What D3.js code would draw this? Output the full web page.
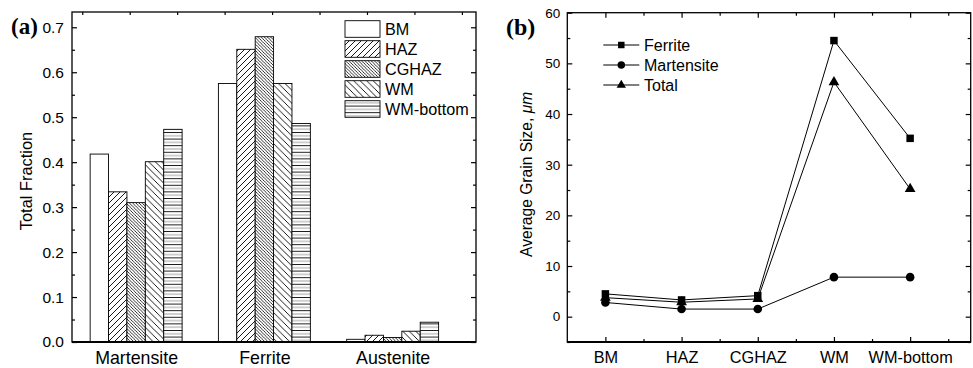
<!DOCTYPE html>
<html><head><meta charset="utf-8">
<script src="https://cdn.jsdelivr.net/npm/d3@7"></script>
<style>body{margin:0;background:#fff}svg{display:block;font-family:"Liberation Sans",Arial,sans-serif}</style>
</head><body>
<svg id="c" width="973" height="368"></svg>
<script>
// ---------- data ----------
const phases = ["Martensite", "Ferrite", "Austenite"];
const zones = ["BM", "HAZ", "CGHAZ", "WM", "WM-bottom"];
const fracBM = [0.418, 0.575, 0.006];
const fracHAZ = [0.334, 0.651, 0.015];
const fracCGHAZ = [0.310, 0.679, 0.010];
const fracWM = [0.401, 0.575, 0.024];
const fracWMb = [0.473, 0.486, 0.044];
const fracTicks = [0, 0.1, 0.2, 0.3, 0.4, 0.5, 0.6, 0.7];

const sizeCats = ["BM", "HAZ", "CGHAZ", "WM", "WM-bottom"];
const sizeFerrite = [4.5, 3.3, 4.15, 54.5, 35.2];
const sizeMartensite = [2.8, 1.5, 1.5, 7.8, 7.8];
const sizeTotal = [3.75, 2.85, 3.5, 46.3, 25.2];
const sizeTicks = [0, 10, 20, 30, 40, 50, 60];

const FONT = "'Liberation Sans', Arial, sans-serif";
const svg = d3.select("#c");
const defs = svg.append("defs");

// ---------- patterns ----------
function hatch(id, w, h, d, sw, extra) {
  const p = defs.append("pattern").attr("id", id).attr("patternUnits", "userSpaceOnUse")
    .attr("width", w).attr("height", h);
  p.append("rect").attr("width", w).attr("height", h).attr("fill", "#fff");
  p.append("path").attr("d", d).attr("stroke", "#000").attr("stroke-width", sw).attr("fill", "none");
  if (extra) extra(p);
}
hatch("pBM", 4, 4, "", 0);
hatch("pHAZ", 6, 6, "M0,6L6,0M-1,1L1,-1M5,7L7,5", 0.9);
hatch("pCG", 3.2, 3.2, "M0,0L3.2,3.2M-1,2.2L1,4.2M2.2,-1L4.2,1", 0.8);
hatch("pWM", 6.5, 6.5, "M0,0L6.5,6.5M-1,5.5L1,7.5M5.5,-1L7.5,1", 0.9);
hatch("pWMb", 8, 6.6, "M0,0.5H8", 0.9, p => {
  p.append("path").attr("d", "M0,3.8H8").attr("stroke", "#888").attr("stroke-width", 0.8);
});
const fills = ["url(#pBM)", "url(#pHAZ)", "url(#pCG)", "url(#pWM)", "url(#pWMb)"];
const fracSeries = [fracBM, fracHAZ, fracCGHAZ, fracWM, fracWMb];

// ---------- panel (a) ----------
const aL = 72, aR = 476, aT = 12, aB = 342;
const gx = d3.scaleLinear().domain([0.5, 3.65]).range([aL, aR]);
const ya = d3.scaleLinear().domain([0, 0.734]).range([aB, aT]);
const barW = (gx(2) - gx(1)) * 0.717 / zones.length;
const A = svg.append("g");

zones.forEach((z, j) => {
  A.append("g").selectAll("rect").data(phases).join("rect")
    .attr("x", (p, i) => gx(i + 1) + (j - zones.length / 2) * barW)
    .attr("y", (p, i) => ya(fracSeries[j][i]))
    .attr("width", barW)
    .attr("height", (p, i) => ya(0) - ya(fracSeries[j][i]))
    .attr("fill", fills[j]).attr("stroke", "#000").attr("stroke-width", 0.9);
});

// frame
A.append("rect").attr("x", aL).attr("y", aT).attr("width", aR - aL).attr("height", aB - aT)
  .attr("fill", "none").attr("stroke", "#000").attr("stroke-width", 1.3);
A.append("line").attr("x1", aL).attr("x2", aR).attr("y1", aB).attr("y2", aB)
  .attr("stroke", "#000").attr("stroke-width", 2.2);

function styleAxis(g, fs) {
  g.select(".domain").remove();
  g.selectAll("line").attr("stroke", "#000").attr("stroke-width", 1.2);
  g.selectAll("text").attr("font-size", fs).attr("fill", "#000").attr("font-family", FONT);
}
const yMinorA = d3.range(0.05, 0.73, 0.1);
A.append("g").attr("transform", `translate(${aL},0)`)
  .call(d3.axisLeft(ya).tickValues(fracTicks).tickFormat(d3.format(".1f")).tickSize(-5).tickPadding(8))
  .call(g => styleAxis(g, 15.5));
A.append("g").attr("transform", `translate(${aL},0)`)
  .call(d3.axisLeft(ya).tickValues(yMinorA).tickFormat("").tickSize(-3)).call(g => styleAxis(g, 0));
A.append("g").attr("transform", `translate(${aR},0)`)
  .call(d3.axisRight(ya).tickValues(fracTicks).tickFormat("").tickSize(-5)).call(g => styleAxis(g, 0));
A.append("g").attr("transform", `translate(${aR},0)`)
  .call(d3.axisRight(ya).tickValues(yMinorA).tickFormat("").tickSize(-3)).call(g => styleAxis(g, 0));
A.append("g").attr("transform", `translate(0,${aT})`)
  .call(d3.axisTop(gx).tickValues(d3.range(0.58, 3.65, 0.37)).tickFormat("").tickSize(-3)).call(g => styleAxis(g, 0));
A.append("g").attr("transform", `translate(0,${aB})`)
  .call(d3.axisBottom(gx).tickValues([1, 2, 3]).tickFormat((d) => phases[d - 1]).tickSize(0).tickPadding(9))
  .call(g => styleAxis(g, 17.8));

A.append("text").attr("transform", `translate(32,${(aT + aB) / 2 + 4}) rotate(-90)`)
  .attr("text-anchor", "middle").attr("font-size", 16.4).attr("font-family", FONT).text("Total Fraction");
A.append("text").attr("x", 11).attr("y", 34).attr("font-family", "'Liberation Serif','Times New Roman',serif")
  .attr("font-weight", "bold").attr("font-size", 23).text("(a)");

// legend (a)
const lg = A.append("g");
zones.forEach((z, j) => {
  lg.append("rect").attr("x", 345).attr("y", 20.7 + j * 20).attr("width", 35).attr("height", 16.6)
    .attr("fill", fills[j]).attr("stroke", "#000").attr("stroke-width", 0.9);
  lg.append("text").attr("x", 385).attr("y", 20.7 + j * 20 + 14.3).attr("font-size", 16.2).attr("font-family", FONT).text(z);
});

// ---------- panel (b) ----------
const bL = 567.3, bR = 970.7, bT = 12.7, bB = 342;
const xb = d3.scaleLinear().domain([-0.5, 4.795]).range([bL, bR]);
const yb = d3.scaleLinear().domain([-5, 60]).range([bB, bT]);
const B = svg.append("g");

B.append("rect").attr("x", bL).attr("y", bT).attr("width", bR - bL).attr("height", bB - bT)
  .attr("fill", "none").attr("stroke", "#000").attr("stroke-width", 1.3);
B.append("line").attr("x1", bL).attr("x2", bR).attr("y1", bB).attr("y2", bB)
  .attr("stroke", "#000").attr("stroke-width", 2.2);

const yMinorB = d3.range(-5, 60, 10);
B.append("g").attr("transform", `translate(${bL},0)`)
  .call(d3.axisLeft(yb).tickValues(sizeTicks).tickSize(-5).tickPadding(7)).call(g => styleAxis(g, 13.5));
B.append("g").attr("transform", `translate(${bL},0)`)
  .call(d3.axisLeft(yb).tickValues(yMinorB).tickFormat("").tickSize(-3)).call(g => styleAxis(g, 0));
B.append("g").attr("transform", `translate(${bR},0)`)
  .call(d3.axisRight(yb).tickValues(sizeTicks).tickFormat("").tickSize(-5)).call(g => styleAxis(g, 0));
B.append("g").attr("transform", `translate(${bR},0)`)
  .call(d3.axisRight(yb).tickValues(yMinorB).tickFormat("").tickSize(-3)).call(g => styleAxis(g, 0));
const xIdx = d3.range(sizeCats.length);
const xMinorB = d3.range(0.5, 4.8, 1);
B.append("g").attr("transform", `translate(0,${bB})`)
  .call(d3.axisBottom(xb).tickValues(xIdx).tickFormat(i => sizeCats[i]).tickSize(-5).tickPadding(9))
  .call(g => styleAxis(g, 16.3));
B.append("g").attr("transform", `translate(0,${bB})`)
  .call(d3.axisBottom(xb).tickValues(xMinorB).tickFormat("").tickSize(-3)).call(g => styleAxis(g, 0));
B.append("g").attr("transform", `translate(0,${bT})`)
  .call(d3.axisTop(xb).tickValues(xIdx).tickFormat("").tickSize(-5)).call(g => styleAxis(g, 0));
B.append("g").attr("transform", `translate(0,${bT})`)
  .call(d3.axisTop(xb).tickValues(xMinorB).tickFormat("").tickSize(-3)).call(g => styleAxis(g, 0));

const series = [
  { name: "Ferrite", vals: sizeFerrite, sym: d3.symbolSquare, size: 56 },
  { name: "Martensite", vals: sizeMartensite, sym: d3.symbolCircle, size: 58 },
  { name: "Total", vals: sizeTotal, sym: d3.symbolTriangle, size: 50 }
];
const line = d3.line().x((d, i) => xb(i)).y(d => yb(d));
series.forEach(s => {
  B.append("path").attr("d", line(s.vals)).attr("fill", "none").attr("stroke", "#000").attr("stroke-width", 1);
});
series.forEach(s => {
  B.append("g").selectAll("path").data(s.vals).join("path")
    .attr("transform", (d, i) => `translate(${xb(i)},${yb(d)})`)
    .attr("d", d3.symbol().type(s.sym).size(s.size)).attr("fill", "#000");
});

// legend (b)
series.forEach((s, k) => {
  const y = 45 + k * 20;
  B.append("line").attr("x1", 603.3).attr("x2", 639.3).attr("y1", y).attr("y2", y).attr("stroke", "#000").attr("stroke-width", 1);
  B.append("path").attr("transform", `translate(621.3,${y})`).attr("d", d3.symbol().type(s.sym).size(s.size * 0.75)).attr("fill", "#000");
  B.append("text").attr("x", 644).attr("y", y + 5.8).attr("font-size", 16).attr("font-family", FONT).text(s.name);
});

const yl = B.append("text").attr("transform", `translate(532,${(bT + bB) / 2 - 3}) rotate(-90)`)
  .attr("text-anchor", "middle").attr("font-size", 15.6).attr("font-family", FONT);
yl.append("tspan").text("Average Grain Size, ");
yl.append("tspan").attr("font-style", "italic").text("μm");
B.append("text").attr("x", 506).attr("y", 35).attr("font-family", "'Liberation Serif','Times New Roman',serif")
  .attr("font-weight", "bold").attr("font-size", 24).text("(b)");
</script>
</body></html>
